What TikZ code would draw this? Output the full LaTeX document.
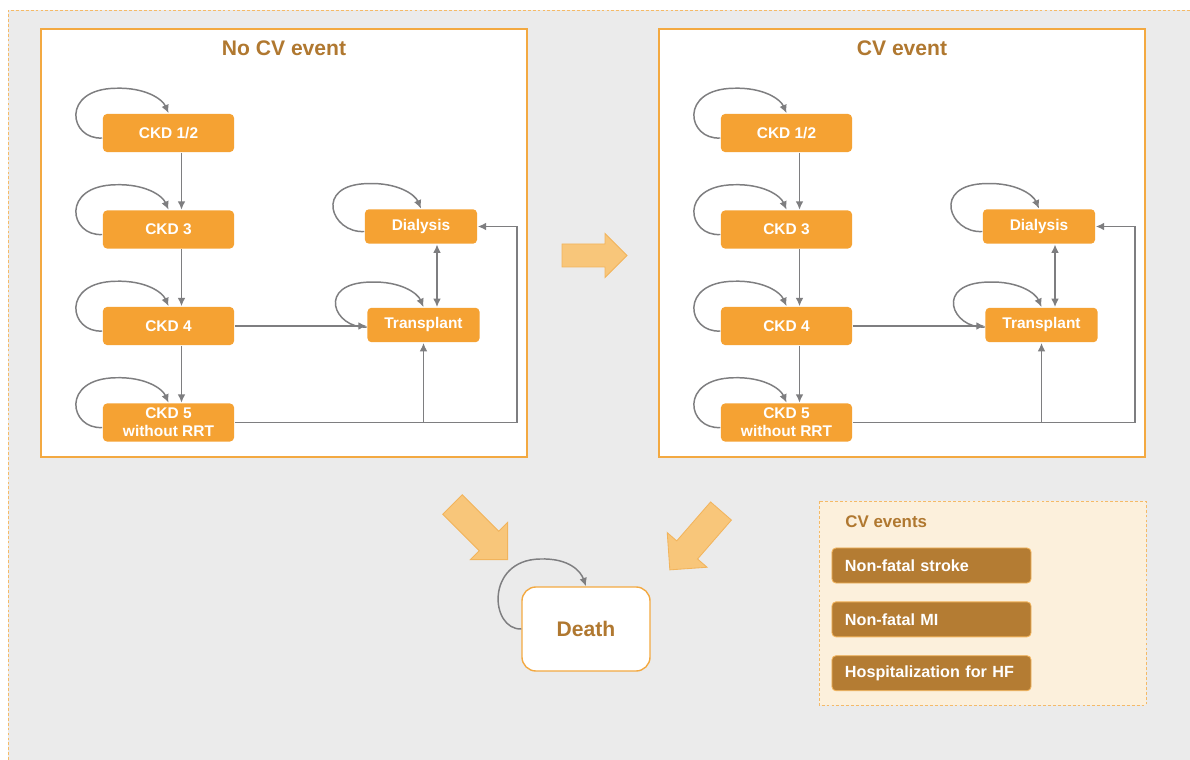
\documentclass[tikz,border=0pt]{standalone}
\usepackage{fontspec}
\setmainfont{Liberation Sans}
\usetikzlibrary{arrows.meta, positioning, calc}

\definecolor{ckdorange}{HTML}{F5A233}
\definecolor{framec}{HTML}{F3A941}
\definecolor{titlebrown}{HTML}{B07830}
\definecolor{evbrown}{HTML}{B47C33}
\definecolor{evbg}{HTML}{FCF0DC}
\definecolor{bggray}{HTML}{EBEBEB}
\definecolor{linegray}{HTML}{7E7E80}
\definecolor{fatfill}{HTML}{F8C67A}
\definecolor{fatdraw}{HTML}{F2B45C}

% loop from the west side back onto the top of a box
\newcommand{\selfloop}[2][-5]{%
  \draw[conn] ($(#2.west)+(0,#1)$) .. controls ($(#2.west)+(-33,#1-2)$) and ($(#2.north)+(-108,24)$)
    .. ($(#2.north)+(-53,25)$) .. controls ($(#2.north)+(-23,26)$) and ($(#2.north)+(-6,14)$) .. (#2.north);}

% big light arrow: tail x, tail y, angle, scale
\newcommand{\fatarrow}[4]{%
  \draw[fatarr, shift={(#1,#2)}, rotate=#3, scale=#4]
    (0,-11.5) -- (43,-11.5) -- (43,-22) -- (65,0) -- (43,22) -- (43,11.5) -- (0,11.5) -- cycle;}

\begin{document}
\begin{tikzpicture}[x=0.025cm,y=0.025cm,>={Latex[length=6pt,width=5.5pt]},line width=1.05pt]

	\tikzset{box/.style={fill=ckdorange, text=white, rounded corners=0.1cm, inner sep=0pt,
			font=\bfseries\fontsize{11}{13}\selectfont, align=center},
		ckd/.style={box, minimum width=3.275cm, minimum height=0.95cm},
		rrt/.style={box, minimum width=2.8cm, minimum height=0.86cm},
		conn/.style={->, draw=linegray},
		panel/.style={draw=framec, fill=white, line width=1pt},
		paneltitle/.style={text=titlebrown, font=\bfseries\fontsize{15}{18}\selectfont},
		deathbox/.style={draw=framec, fill=white, line width=1pt, rounded corners=0.35cm,
			minimum width=3.2cm, minimum height=2.1cm, text=titlebrown,
			font=\bfseries\fontsize{15}{18}\selectfont},
		evitem/.style={draw=fatdraw, line width=0.6pt, fill=evbrown, text=white, rounded corners=0.1cm,
			minimum height=0.875cm, text width=4.325cm, inner xsep=0.325cm, inner ysep=0pt,
			align=left, font=\bfseries\fontsize{11.5}{13}\selectfont},
		fatarr/.style={fill=fatfill, draw=fatdraw, line width=0.6pt}}

	\useasboundingbox (0,0) rectangle (1190,-760);
	\fill[white] (0,0) rectangle (1190,-760);
	\fill[bggray] (8,-10) rectangle (1190,-760);
	\draw[framec!80, line width=0.6pt, dash pattern=on 2pt off 1.5pt] (8,-760) -- (8,-10) -- (1190,-10);

	\foreach \p/\dx/\ttl in {L/0/No CV event, R/618/CV event} {
		\draw[panel] (41+\dx,-29) rectangle (527+\dx,-457);
		\node[paneltitle] (title\p) at (284+\dx,-48) {\ttl};

		\node[ckd] (ckd12\p) at (168.5+\dx,-133) {CKD 1/2};
		\node[ckd, below=1.425cm of ckd12\p] (ckd3\p) {CKD 3};
		\node[ckd, below=1.425cm of ckd3\p] (ckd4\p) {CKD 4};
		\node[ckd, below=1.425cm of ckd4\p] (ckd5\p) {CKD 5\\without RRT};
		\node[rrt] (dial\p) at (421+\dx,-226.5) {Dialysis};
		\node[rrt] (tx\p) at (423.5+\dx,-325) {Transplant};

		\selfloop{ckd12\p}
		\selfloop{ckd3\p}
		\selfloop{ckd4\p}
		\selfloop{ckd5\p}
		\selfloop{dial\p}
		\selfloop[-2]{tx\p}

		\draw[conn] ([xshift=0.325cm]ckd12\p.south) -- ([xshift=0.325cm]ckd3\p.north);
		\draw[conn] ([xshift=0.325cm]ckd3\p.south) -- ([xshift=0.325cm]ckd4\p.north);
		\draw[conn] ([xshift=0.325cm]ckd4\p.south) -- ([xshift=0.325cm]ckd5\p.north);
		\draw[conn] (ckd4\p.east) -- (ckd4\p.east -| tx\p.west);
		\draw[conn] (ckd5\p.east) -| ([xshift=0.975cm]dial\p.east) -- (dial\p.east);
		\draw[conn] (tx\p.south |- ckd5\p.east) -- (tx\p.south);
		\coordinate (dt\p) at ([xshift=0.4cm]dial\p.south);
		\draw[conn, <->] (dt\p) -- (dt\p |- tx\p.north);
	}

	% moves between the panels and to death
	\fatarrow{562}{-255.5}{0}{1}
	\fatarrow{452.5}{-504.5}{-45}{1.2}
	\fatarrow{721}{-511}{229}{1.2}

	\node[deathbox] (death) at (586,-629) {Death};
	\draw[conn] (death.west) .. controls (490,-630) and (485,-560) .. (540,-559)
		.. controls (570,-558) and (581,-572) .. (death.north);

	% legend of CV events
	\draw[draw=framec!80, fill=evbg, line width=0.6pt, dash pattern=on 2pt off 1.5pt]
		(819,-501) rectangle (1146,-705);
	\node[anchor=west, text=titlebrown, font=\bfseries\fontsize{12}{14}\selectfont] (evtitle) at (840,-522) {CV events};
	\node[evitem] (ev1) at (931.5,-565.5) {Non-fatal stroke};
	\node[evitem, below=0.45cm of ev1] (ev2) {Non-fatal MI};
	\node[evitem, below=0.45cm of ev2] (ev3) {Hospitalization for HF};

\end{tikzpicture}
\end{document}
